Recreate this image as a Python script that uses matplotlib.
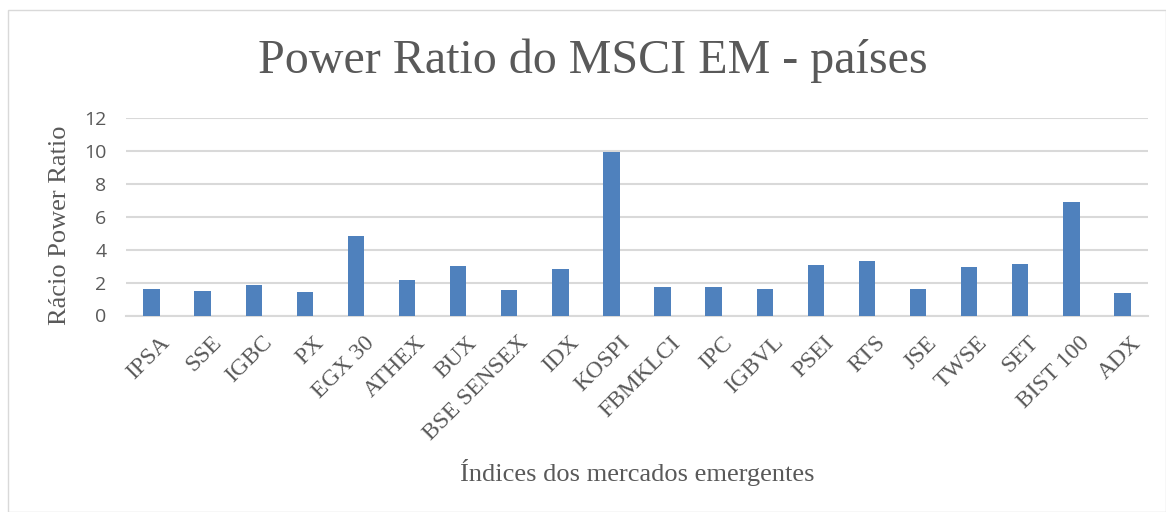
import matplotlib.pyplot as plt
import matplotlib.transforms as mtransforms
import numpy as np
from matplotlib.patches import Rectangle

indices = ['IPSA', 'SSE', 'IGBC', 'PX', 'EGX 30', 'ATHEX', 'BUX', 'BSE SENSEX',
           'IDX', 'KOSPI', 'FBMKLCI', 'IPC', 'IGBVL', 'PSEI', 'RTS', 'JSE',
           'TWSE', 'SET', 'BIST 100', 'ADX']
power_ratio = [1.60, 1.50, 1.87, 1.42, 4.85, 2.17, 3.02, 1.58, 2.82, 9.94,
               1.72, 1.74, 1.64, 3.08, 3.33, 1.64, 2.94, 3.14, 6.92, 1.34]
y_ticks = [0, 2, 4, 6, 8, 10, 12]

W, H = 1166, 512
fig = plt.figure(figsize=(W / 100, H / 100), dpi=100)
ax = fig.add_axes([126 / W, 1 - 315.5 / H, (1148 - 126) / W, (315.5 - 118.3) / H])

grey = '#595959'
serif = ['Liberation Serif', 'DejaVu Serif']

x = np.arange(len(indices))
ax.bar(x, power_ratio, width=0.32, color='#4F81BD', zorder=3)

ax.set_xlim(-0.5, len(indices) - 0.5)
ax.set_ylim(0, 12)
ax.set_yticks(y_ticks)
ax.set_yticklabels([str(t) for t in y_ticks], fontsize=14, color=grey,
                   family=['Open Sans', 'DejaVu Sans'])
ax.set_xticks(x)
ax.set_xticklabels(indices, rotation=45, ha='right', rotation_mode='anchor',
                   fontsize=17, color=grey, family=serif)
ax.tick_params(axis='both', length=0)
ax.tick_params(axis='y', pad=14)
ax.tick_params(axis='x', pad=12)

# nudge the rotated labels to the right, as in the original
offset = mtransforms.ScaledTranslation(8 / 100, 0, fig.dpi_scale_trans)
for lbl in ax.get_xticklabels():
    lbl.set_transform(lbl.get_transform() + offset)

ax.grid(axis='y', color='#D9D9D9', linewidth=1.5, zorder=0)
for s in ['top', 'right', 'left']:
    ax.spines[s].set_visible(False)
ax.spines['bottom'].set_color('#D9D9D9')
ax.spines['bottom'].set_linewidth(1.5)

fig.text(593 / W, 1 - 61 / H, 'Power Ratio do MSCI EM - países', ha='center',
         va='center', fontsize=34.6, color=grey, family=serif)
fig.text(60 / W, 1 - 225 / H, 'Rácio Power Ratio', ha='center', va='center',
         rotation=90, fontsize=19, color=grey, family=serif)
fig.text(637 / W, 1 - 472 / H, 'Índices dos mercados emergentes', ha='center',
         va='center', fontsize=19, color=grey, family=serif)

fig.patches.append(Rectangle((7.5 / W, 0), 1 - 7.5 / W, 1 - 10 / H,
                             transform=fig.transFigure, fill=False,
                             edgecolor='#D9D9D9', linewidth=1))

fig.savefig('out.png', dpi=100)
